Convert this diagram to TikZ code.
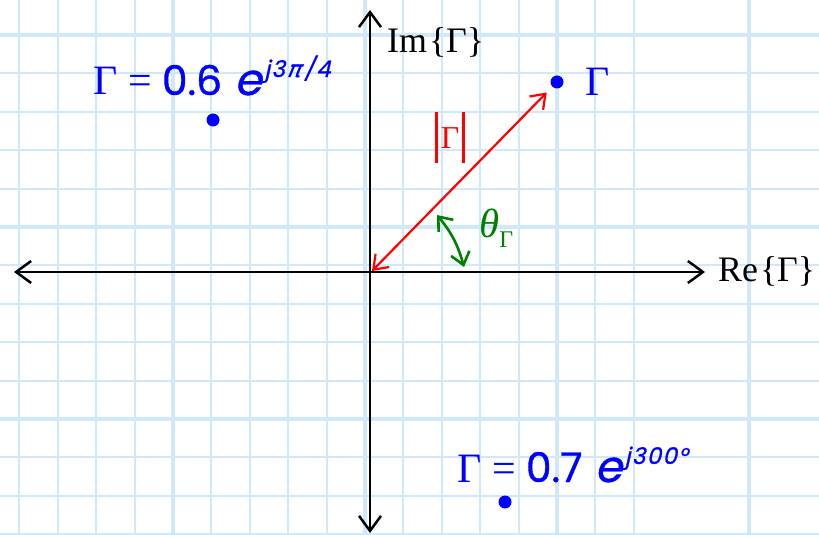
\documentclass[tikz,border=0pt]{standalone}
\usepackage{fontspec}
\setmainfont{Liberation Serif}
\newfontfamily\numfont[FakeBold=0.9,ItalicFont=Poppins,ItalicFeatures={FakeSlant=0.22,FakeBold=0.9}]{Poppins}
\newfontfamily\grkfont[FakeSlant=0.22,FakeBold=0.6]{DejaVu Sans}
\usetikzlibrary{arrows.meta,positioning}
\definecolor{gridblue}{RGB}{207,232,250}
\definecolor{ptblue}{RGB}{0,0,255}
\definecolor{magred}{RGB}{255,0,0}
\definecolor{anggreen}{RGB}{0,128,0}
% polar form label: magnitude, exponent
\newcommand{\polarlbl}[2]{Γ\hspace{0.26em}=\hspace{0.24em}{\fontsize{41}{46}\selectfont\numfont #1\hspace{0.3em}\fontsize{44}{46}\selectfont\itshape e}\hspace{3bp}\raisebox{18bp}{\fontsize{23}{26}\selectfont\numfont\itshape\addfontfeatures{LetterSpace=6} #2}}
\newcommand{\magbar}{\raisebox{-14bp}{\rule{2.6bp}{51bp}}}

\begin{document}
\begin{tikzpicture}[x=1bp,y=-1bp,
    gridminor/.style={gridblue,line width=2bp},
    gridmajor/.style={gridblue,line width=4bp},
    axis/.style={line width=2.5bp,{Straight Barb[length=15bp,width=22bp]}-{Straight Barb[length=15bp,width=22bp]}},
    dot/.style={circle,fill=ptblue,inner sep=0pt,minimum size=13bp},
    lbl/.style={inner sep=0pt,font=\fontsize{42}{48}\selectfont},
    axlbl/.style={inner sep=0pt,anchor=base west,font=\fontsize{36}{42}\selectfont}]
  \useasboundingbox (0,0) rectangle (819,535);
  % graph paper
  \foreach \gx in {0,...,16} \draw[gridminor] ({19.4+38.4*\gx},0) -- ++(0,535);
  \foreach \gy in {0,...,13} \draw[gridminor] (0,{35+38.4*\gy}) -- ++(819,0);
  \foreach \gx in {173,365,557,749} \draw[gridmajor] (\gx,0) -- ++(0,535);
  \foreach \gy in {35,227,419} \draw[gridmajor] (0,\gy) -- ++(819,0);
  % axes
  \coordinate (xl) at (14,272);
  \coordinate (xr) at (705,272);
  \coordinate (yt) at (370,10);
  \coordinate (yb) at (370,533);
  \draw[axis] (xl) -- (xr);
  \draw[axis] (yt) -- (yb);
  \node[axlbl] (relbl) at (718,282) {Re\hspace{2bp}\{Γ\}};
  \node[axlbl] (imlbl) at (387,53) {Im\hspace{2bp}\{Γ\}};
  % the three points
  \node[dot] (g0) at (557,82) {};
  \node[dot] (g1) at (213,120) {};
  \node[dot] (g2) at (505,502) {};
  \node[lbl,text=ptblue,right=22bp of g0] (g0lbl) {Γ};
  \node[lbl,text=ptblue,anchor=base west] (g1lbl) at (93,95) {\polarlbl{0.6}{j3\hspace{2bp}{\grkfont π}\hspace{3bp}/4}};
  \node[lbl,text=ptblue,anchor=base west] (g2lbl) at (457,482) {\polarlbl{0.7}{j300°}};
  % magnitude and angle
  \coordinate (orig) at (372,271);
  \draw[magred,line width=2.2bp,{Straight Barb[length=13bp,width=19bp]}-{Straight Barb[length=13bp,width=19bp]},shorten >=8bp] (orig) -- (g0);
  \node[inner sep=0pt,text=magred,font=\fontsize{32}{36}\selectfont,anchor=base] (maglbl) at (450,149) {\magbar\hspace{0.1em}Γ\hspace{0.1em}\magbar};
  \coordinate (th1) at (437,215);
  \coordinate (th2) at (464,267);
  \draw[anggreen,line width=2.6bp,{Straight Barb[length=12bp,width=19bp]}-{Straight Barb[length=12bp,width=19bp]}] (th1) to[bend left=12] (th2);
  \node[inner sep=0pt,text=anggreen,anchor=base west,font=\fontsize{41}{44}\selectfont] (anglbl) at (479,238) {\itshape θ\raisebox{-10bp}{\upshape\fontsize{24}{26}\selectfont Γ}};
\end{tikzpicture}
\end{document}
